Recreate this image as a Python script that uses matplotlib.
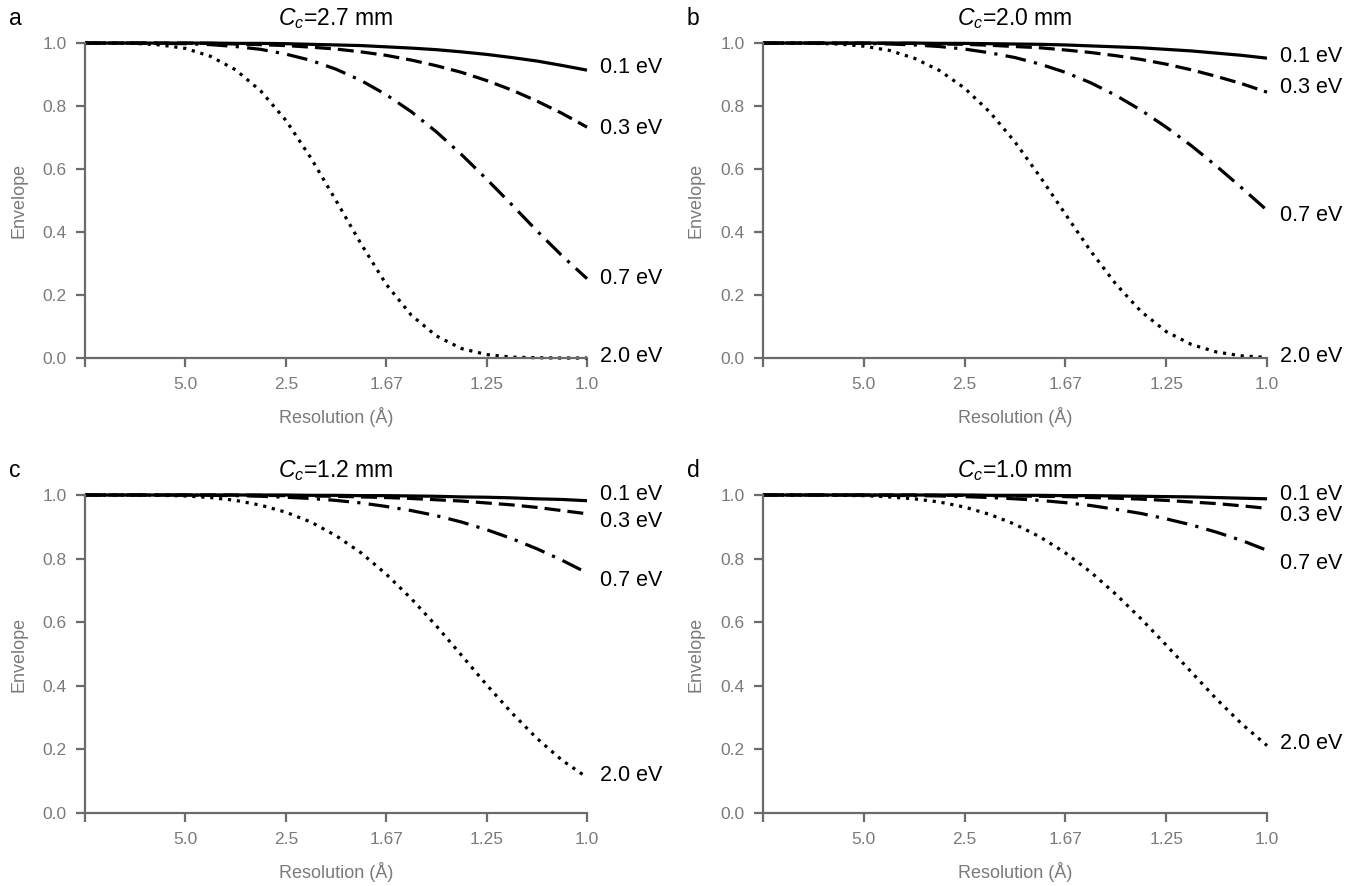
import numpy as np
import matplotlib
matplotlib.use("Agg")
import matplotlib.pyplot as plt

plt.rcParams['font.family'] = ['Liberation Sans', 'DejaVu Sans']
plt.rcParams['mathtext.fontset'] = 'custom'
plt.rcParams['mathtext.rm'] = 'Liberation Sans'
plt.rcParams['mathtext.it'] = 'Liberation Sans:italic'

# spatial frequency (1/A), read every 0.05
freq = [0.0, 0.05, 0.10, 0.15, 0.20, 0.25, 0.30, 0.35, 0.40, 0.45, 0.50,
        0.55, 0.60, 0.65, 0.70, 0.75, 0.80, 0.85, 0.90, 0.95, 1.00]
res_ticks = [0.0, 0.2, 0.4, 0.6, 0.8, 1.0]
res_labels = ['', '5.0', '2.5', '1.67', '1.25', '1.0']
energy_labels = ['0.1 eV', '0.3 eV', '0.7 eV', '2.0 eV']
panel_letters = ['a', 'b', 'c', 'd']
cc_values = ['2.7', '2.0', '1.2', '1.0']

# Cc = 2.7 mm
a_01 = [1.000, 1.000, 1.000, 1.000, 1.000, 1.000, 0.999, 0.999, 0.998, 0.996, 0.994,
        0.992, 0.988, 0.984, 0.979, 0.972, 0.964, 0.954, 0.943, 0.929, 0.914]
a_03 = [1.000, 1.000, 1.000, 1.000, 1.000, 0.999, 0.997, 0.995, 0.992, 0.987, 0.981,
        0.972, 0.961, 0.946, 0.928, 0.907, 0.881, 0.851, 0.816, 0.777, 0.733]
a_07 = [1.000, 1.000, 1.000, 0.999, 0.998, 0.995, 0.989, 0.980, 0.965, 0.945, 0.917,
        0.881, 0.836, 0.782, 0.718, 0.646, 0.568, 0.487, 0.404, 0.325, 0.252]
a_20 = [1.000, 1.000, 0.999, 0.994, 0.983, 0.958, 0.915, 0.848, 0.755, 0.635, 0.500,
        0.362, 0.234, 0.136, 0.070, 0.030, 0.011, 0.003, 0.001, 0.000, 0.000]

# Cc = 2.0 mm
b_01 = [1.000, 1.000, 1.000, 1.000, 1.000, 1.000, 1.000, 0.999, 0.999, 0.998, 0.997,
        0.996, 0.994, 0.991, 0.988, 0.985, 0.980, 0.975, 0.968, 0.961, 0.952]
b_03 = [1.000, 1.000, 1.000, 1.000, 1.000, 0.999, 0.999, 0.997, 0.996, 0.993, 0.989,
        0.985, 0.978, 0.970, 0.960, 0.948, 0.933, 0.915, 0.894, 0.871, 0.844]
b_07 = [1.000, 1.000, 1.000, 1.000, 0.999, 0.997, 0.994, 0.989, 0.981, 0.969, 0.954,
        0.933, 0.907, 0.874, 0.834, 0.787, 0.733, 0.674, 0.609, 0.540, 0.469]
b_20 = [1.000, 1.000, 0.999, 0.997, 0.990, 0.977, 0.952, 0.913, 0.857, 0.781, 0.686,
        0.575, 0.457, 0.340, 0.235, 0.148, 0.084, 0.043, 0.019, 0.007, 0.002]

# Cc = 1.2 mm
c_01 = [1.000, 1.000, 1.000, 1.000, 1.000, 1.000, 1.000, 1.000, 1.000, 0.999, 0.999,
        0.998, 0.998, 0.997, 0.996, 0.994, 0.993, 0.991, 0.988, 0.986, 0.982]
c_03 = [1.000, 1.000, 1.000, 1.000, 1.000, 1.000, 1.000, 0.999, 0.998, 0.997, 0.996,
        0.994, 0.992, 0.989, 0.985, 0.981, 0.975, 0.969, 0.961, 0.951, 0.941]
c_07 = [1.000, 1.000, 1.000, 1.000, 1.000, 0.999, 0.998, 0.996, 0.993, 0.989, 0.983,
        0.975, 0.964, 0.951, 0.935, 0.915, 0.891, 0.863, 0.831, 0.795, 0.755]
c_20 = [1.000, 1.000, 1.000, 0.999, 0.997, 0.992, 0.983, 0.968, 0.946, 0.915, 0.872,
        0.818, 0.751, 0.674, 0.588, 0.496, 0.403, 0.315, 0.235, 0.166, 0.112]

# Cc = 1.0 mm
d_01 = [1.000, 1.000, 1.000, 1.000, 1.000, 1.000, 1.000, 1.000, 1.000, 0.999, 0.999,
        0.999, 0.998, 0.998, 0.997, 0.996, 0.995, 0.994, 0.992, 0.990, 0.988]
d_03 = [1.000, 1.000, 1.000, 1.000, 1.000, 1.000, 1.000, 0.999, 0.999, 0.998, 0.997,
        0.996, 0.995, 0.992, 0.990, 0.987, 0.983, 0.978, 0.973, 0.966, 0.958]
d_07 = [1.000, 1.000, 1.000, 1.000, 1.000, 0.999, 0.998, 0.997, 0.995, 0.992, 0.988,
        0.983, 0.976, 0.967, 0.955, 0.942, 0.925, 0.906, 0.883, 0.857, 0.826]
d_20 = [1.000, 1.000, 1.000, 0.999, 0.998, 0.994, 0.988, 0.978, 0.962, 0.939, 0.908,
        0.868, 0.818, 0.758, 0.688, 0.611, 0.528, 0.443, 0.358, 0.280, 0.212]

panels = [[a_01, a_03, a_07, a_20],
          [b_01, b_03, b_07, b_20],
          [c_01, c_03, c_07, c_20],
          [d_01, d_03, d_07, d_20]]

# label heights next to the curve ends (layout only)
label_y = [[0.921, 0.730, 0.251, 0.006],
           [0.956, 0.860, 0.454, 0.006],
           [1.003, 0.918, 0.730, 0.119],
           [1.003, 0.934, 0.786, 0.220]]

styles = ['-', (0, (5, 2.2)), (0, (6.5, 2.6, 1, 2.6)), (0, (1, 1.8))]
axes_rects = [[0.0621, 0.5959, 0.3667, 0.3555],
              [0.5573, 0.5959, 0.3682, 0.3555],
              [0.0621, 0.0824, 0.3667, 0.3589],
              [0.5573, 0.0824, 0.3682, 0.3589]]

grey = '#6b6b6b'
label_grey = '#7a7a7a'
fig = plt.figure(figsize=(13.69, 8.86), dpi=100)

for i, rect in enumerate(axes_rects):
    ax = fig.add_axes(rect)
    for j, curve in enumerate(panels[i]):
        ax.plot(freq, curve, color='black', lw=2.3, linestyle=styles[j],
                solid_capstyle='butt', dash_capstyle='butt', clip_on=False)
        ax.text(1.025, label_y[i][j], energy_labels[j], fontsize=15.5,
                ha='left', va='center', transform=ax.transData, clip_on=False)

    ax.set_xlim(0, 1)
    ax.set_ylim(0, 1)
    ax.set_xticks(res_ticks)
    ax.set_xticklabels(res_labels)
    ax.set_yticks([0.0, 0.2, 0.4, 0.6, 0.8, 1.0])
    ax.set_yticklabels(['0.0', '0.2', '0.4', '0.6', '0.8', '1.0'])
    for side in ['top', 'right']:
        ax.spines[side].set_visible(False)
    for side in ['left', 'bottom']:
        ax.spines[side].set_color(grey)
        ax.spines[side].set_linewidth(1.6)
    ax.tick_params(axis='both', colors=grey, labelcolor=label_grey, labelsize=12.5,
                   width=1.6, length=6.5, direction='out')
    ax.tick_params(axis='x', pad=7)
    ax.tick_params(axis='y', pad=6.5)
    ax.set_xlabel('Resolution (Å)', fontsize=13, color=label_grey)
    ax.set_ylabel('Envelope', fontsize=13, color=label_grey)
    ax.xaxis.set_label_coords(0.5, -0.155)
    ax.yaxis.set_label_coords(-0.115, 0.5)

    ax.text(0.5, 1.057, '$C_c$=' + cc_values[i] + ' mm', fontsize=16.5,
            ha='center', va='baseline', transform=ax.transAxes)
    ax.text(-0.139, 1.057, panel_letters[i], fontsize=16.5,
            ha='center', va='baseline', transform=ax.transAxes)

fig.savefig('out.png', dpi=100)
